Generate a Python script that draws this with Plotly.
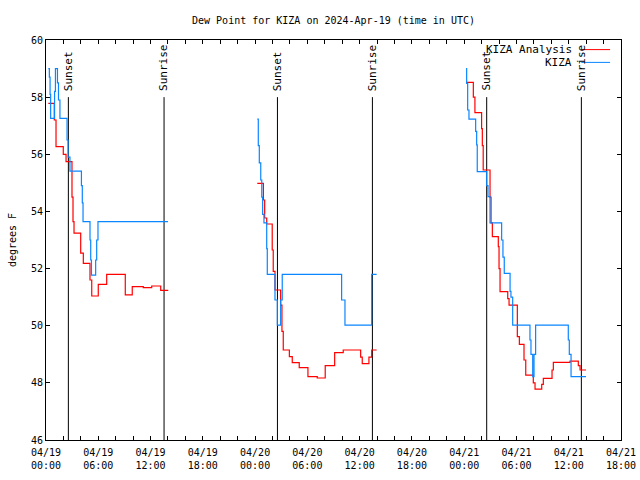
import plotly.graph_objects as go

# ---------------- data ----------------
kiza_times = [
    "2024-04-19 00:16", "2024-04-19 00:23", "2024-04-19 00:28", "2024-04-19 00:32",
    "2024-04-19 00:59", "2024-04-19 01:05", "2024-04-19 01:19", "2024-04-19 01:26",
    "2024-04-19 01:36", "2024-04-19 02:25", "2024-04-19 02:32", "2024-04-19 02:45",
    "2024-04-19 04:04", "2024-04-19 04:10", "2024-04-19 04:15", "2024-04-19 05:03",
    "2024-04-19 05:08", "2024-04-19 05:13", "2024-04-19 05:42", "2024-04-19 05:49",
    "2024-04-19 05:58", "2024-04-19 14:00", "2024-04-19 14:01",
    "2024-04-20 00:15", "2024-04-20 00:22", "2024-04-20 00:29", "2024-04-20 00:39",
    "2024-04-20 00:46", "2024-04-20 00:52", "2024-04-20 01:01", "2024-04-20 01:20",
    "2024-04-20 01:24", "2024-04-20 02:17", "2024-04-20 02:33", "2024-04-20 02:56",
    "2024-04-20 03:07", "2024-04-20 09:56", "2024-04-20 10:19", "2024-04-20 13:23",
    "2024-04-20 13:57", "2024-04-20 13:58",
    "2024-04-21 00:13", "2024-04-21 00:17", "2024-04-21 00:24", "2024-04-21 00:33",
    "2024-04-21 01:19", "2024-04-21 01:26", "2024-04-21 01:30", "2024-04-21 02:35",
    "2024-04-21 02:44", "2024-04-21 02:58", "2024-04-21 04:18", "2024-04-21 04:27",
    "2024-04-21 04:36", "2024-04-21 05:16", "2024-04-21 05:22", "2024-04-21 05:34",
    "2024-04-21 07:33", "2024-04-21 07:40", "2024-04-21 07:52", "2024-04-21 08:01",
    "2024-04-21 08:12", "2024-04-21 11:57", "2024-04-21 12:04", "2024-04-21 12:16",
    "2024-04-21 13:59",
]
kiza_values = [
    59.0, 58.7, 58.1, 57.26,
    58.2, 59.0, 58.5, 57.9,
    57.26, 56.5, 55.9, 55.41,
    54.9, 54.3, 53.64, 53.0,
    52.3, 51.77, 52.3, 53.0,
    53.64, 53.64, None,
    57.23, 56.3, 55.7, 55.1,
    54.5, 53.9, 53.6, 52.7,
    51.8, 50.9, 50.02, 50.9,
    51.8, 50.9, 50.02, 51.8,
    51.8, None,
    59.0, 58.48, 57.55, 57.23,
    56.8, 56.33, 55.39, 54.9,
    54.52, 53.6, 53.0, 52.4,
    51.83, 51.2, 51.0, 50.02,
    49.5, 49.0, 48.22, 49.0,
    50.02, 49.5, 49.0, 48.22,
    48.22,
]

analysis_times = [
    "2024-04-19 00:16", "2024-04-19 00:57", "2024-04-19 01:09", "2024-04-19 01:59",
    "2024-04-19 02:18", "2024-04-19 02:59", "2024-04-19 03:06", "2024-04-19 03:13",
    "2024-04-19 03:59", "2024-04-19 04:17", "2024-04-19 05:03", "2024-04-19 05:15",
    "2024-04-19 06:00", "2024-04-19 06:58", "2024-04-19 09:06", "2024-04-19 09:54",
    "2024-04-19 11:10", "2024-04-19 12:08", "2024-04-19 13:10", "2024-04-19 14:02",
    "2024-04-19 14:03",
    "2024-04-20 00:15", "2024-04-20 00:57", "2024-04-20 01:06", "2024-04-20 01:20",
    "2024-04-20 01:58", "2024-04-20 02:05", "2024-04-20 02:17", "2024-04-20 02:56",
    "2024-04-20 03:05", "2024-04-20 03:14", "2024-04-20 03:56", "2024-04-20 04:16",
    "2024-04-20 05:04", "2024-04-20 06:04", "2024-04-20 07:08", "2024-04-20 08:03",
    "2024-04-20 09:08", "2024-04-20 10:07", "2024-04-20 12:07", "2024-04-20 12:18",
    "2024-04-20 13:04", "2024-04-20 13:23", "2024-04-20 13:57", "2024-04-20 13:58",
    "2024-04-21 00:13", "2024-04-21 01:03", "2024-04-21 01:14", "2024-04-21 02:00",
    "2024-04-21 02:05", "2024-04-21 02:11", "2024-04-21 02:58", "2024-04-21 03:05",
    "2024-04-21 03:14", "2024-04-21 03:55", "2024-04-21 04:00", "2024-04-21 04:07",
    "2024-04-21 05:00", "2024-04-21 05:09", "2024-04-21 06:06", "2024-04-21 06:20",
    "2024-04-21 06:52", "2024-04-21 07:04", "2024-04-21 07:56", "2024-04-21 08:08",
    "2024-04-21 08:54", "2024-04-21 09:05", "2024-04-21 10:05", "2024-04-21 10:14",
    "2024-04-21 12:09", "2024-04-21 13:06", "2024-04-21 13:18", "2024-04-21 13:59",
]
analysis_values = [
    57.78, 57.2, 56.27, 56.0,
    55.74, 54.5, 53.64, 53.24,
    52.54, 52.18, 51.6, 51.04,
    51.45, 51.8, 51.08, 51.37,
    51.33, 51.39, 51.24, 51.24,
    None,
    54.98, 54.4, 53.77, 53.56,
    52.65, 51.9, 51.25, 50.72,
    49.8, 49.15, 48.92, 48.71,
    48.53, 48.22, 48.17, 48.6,
    49.06, 49.15, 48.9, 48.67,
    48.9, 49.15, 49.15, None,
    58.52, 58.0, 57.46, 56.9,
    56.3, 55.45, 54.5, 53.6,
    53.12, 52.77, 52.0, 51.19,
    50.95, 50.72, 49.62, 49.35,
    48.8, 48.27, 48.0, 47.78,
    47.95, 48.16, 48.45, 48.72,
    48.76, 48.6, 48.45, 48.45,
]

sunset_times = ["2024-04-19 02:34", "2024-04-20 02:34", "2024-04-21 02:35"]
sunrise_times = ["2024-04-19 13:33", "2024-04-20 13:28", "2024-04-21 13:27"]

tick_values = [
    "2024-04-19 00:00", "2024-04-19 06:00", "2024-04-19 12:00", "2024-04-19 18:00",
    "2024-04-20 00:00", "2024-04-20 06:00", "2024-04-20 12:00", "2024-04-20 18:00",
    "2024-04-21 00:00", "2024-04-21 06:00", "2024-04-21 12:00", "2024-04-21 18:00",
]
tick_labels = [
    "04/19<br>00:00", "04/19<br>06:00", "04/19<br>12:00", "04/19<br>18:00",
    "04/20<br>00:00", "04/20<br>06:00", "04/20<br>12:00", "04/20<br>18:00",
    "04/21<br>00:00", "04/21<br>06:00", "04/21<br>12:00", "04/21<br>18:00",
]
y_ticks = [46, 48, 50, 52, 54, 56, 58, 60]

RED = "#ff0000"
BLUE = "#0a86ff"
FONT = "DejaVu Sans Mono"

fig = go.Figure()
fig.add_trace(go.Scatter(x=analysis_times, y=analysis_values, mode="lines",
                         line=dict(color=RED, width=1.2, shape="hv"),
                         connectgaps=False, name="KIZA Analysis", showlegend=False))
fig.add_trace(go.Scatter(x=kiza_times, y=kiza_values, mode="lines",
                         line=dict(color=BLUE, width=1.2, shape="hv"),
                         connectgaps=False, name="KIZA", showlegend=False))

shapes = []
annotations = []
for label, times in (("Sunset", sunset_times), ("Sunrise", sunrise_times)):
    for t in times:
        shapes.append(dict(type="line", xref="x", yref="y", x0=t, x1=t, y0=46, y1=58,
                           line=dict(color="black", width=1), layer="below"))
        annotations.append(dict(x=t, y=58.15, xref="x", yref="y", text=label,
                                textangle=-90, showarrow=False, xanchor="center",
                                yanchor="bottom", font=dict(family=FONT, size=11, color="black")))

# gnuplot-style key (text right, sample line on right)
for name, color, py in (("KIZA Analysis", RED, 0.976), ("KIZA", BLUE, 0.944)):
    annotations.append(dict(x=0.918, y=py, xref="paper", yref="paper", text=name,
                            showarrow=False, xanchor="right", yanchor="middle",
                            font=dict(family=FONT, size=11, color="black")))
    shapes.append(dict(type="line", xref="paper", yref="paper", x0=0.931, x1=0.981,
                       y0=py, y1=py, line=dict(color=color, width=1)))

fig.update_layout(
    width=640, height=480,
    margin=dict(l=46, r=19, t=40, b=40),
    paper_bgcolor="white", plot_bgcolor="white",
    font=dict(family=FONT, size=10, color="black"),
    title=dict(text="Dew Point for KIZA on 2024-Apr-19 (time in UTC)",
               x=0.5, xref="paper", xanchor="center", y=0.957, yanchor="middle",
               font=dict(family=FONT, size=10, color="black")),
    shapes=shapes, annotations=annotations, showlegend=False,
)
fig.update_xaxes(
    type="date", range=["2024-04-19 00:00", "2024-04-21 18:00"],
    tickvals=tick_values, ticktext=tick_labels,
    ticks="inside", ticklen=4, tickcolor="black",
    minor=dict(ticks="inside", ticklen=4, dtick=2 * 3600 * 1000,
               tick0="2024-04-19 00:00", tickcolor="black", showgrid=False),
    showline=True, linecolor="black", linewidth=1, mirror="ticks",
    showgrid=False, zeroline=False, tickfont=dict(family=FONT, size=10),
    ticklabelstandoff=3, automargin=False,
)
fig.update_yaxes(
    range=[46, 60], tickvals=y_ticks,
    ticks="inside", ticklen=4, tickcolor="black",
    showline=True, linecolor="black", linewidth=1, mirror="ticks",
    showgrid=False, zeroline=False, tickfont=dict(family=FONT, size=10),
    title=dict(text="degrees F", font=dict(family=FONT, size=10), standoff=12),
    automargin=False,
)

fig.write_html("out.html", config={"displayModeBar": False},
               post_script="document.body.style.margin='0';")
